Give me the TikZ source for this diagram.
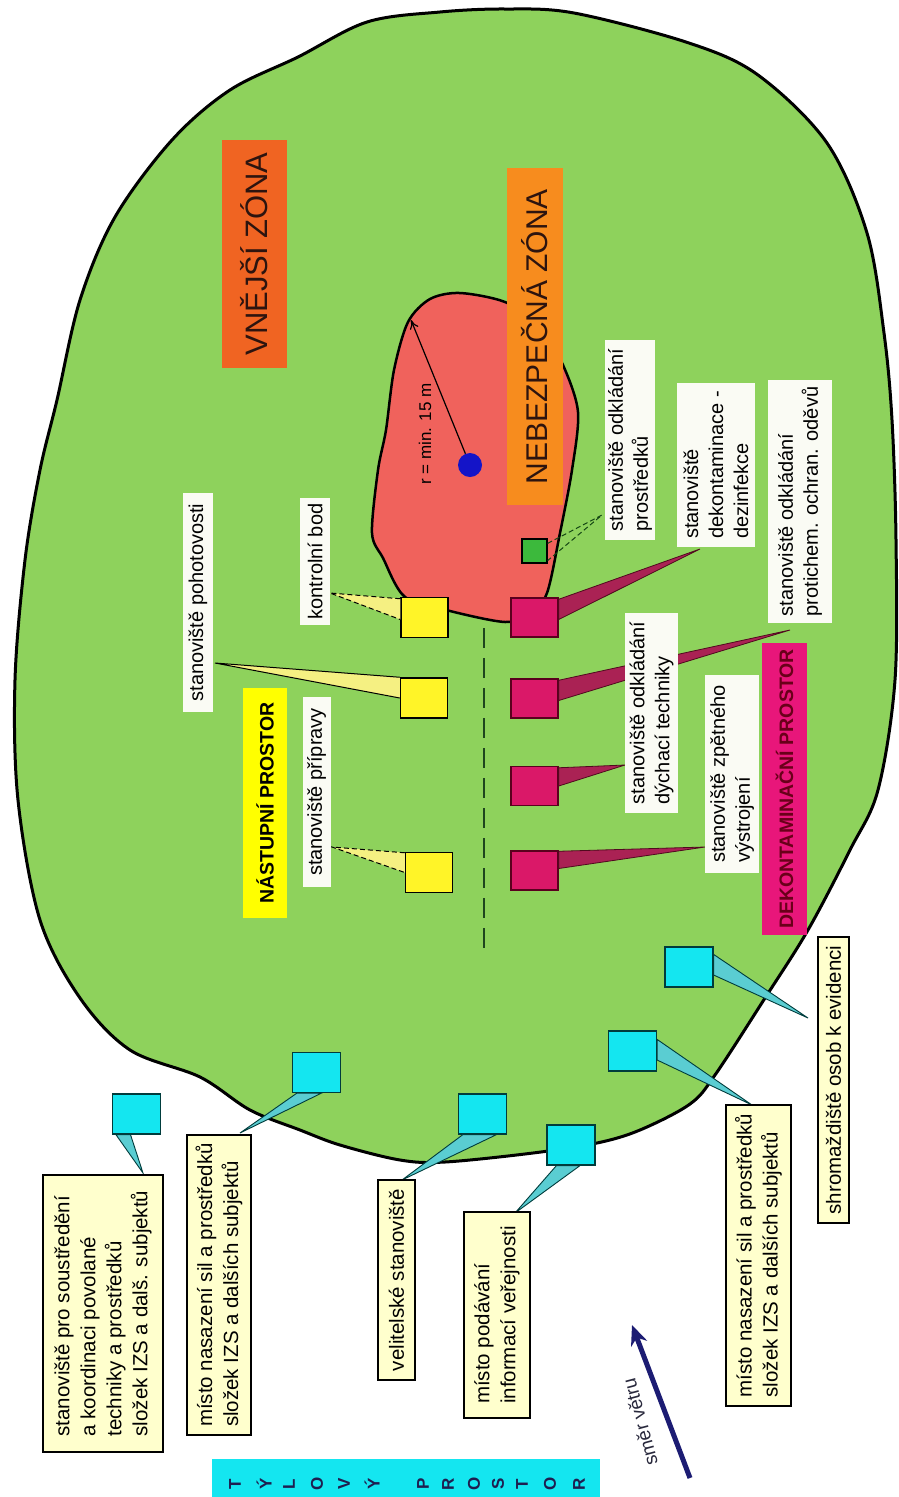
\documentclass[tikz,border=0pt]{standalone}
\usepackage{fontspec}
\setmainfont{Liberation Sans}
\usetikzlibrary{calc,arrows.meta}
\definecolor{zonegreen}{RGB}{142,210,92}
\definecolor{hazred}{RGB}{240,98,92}
\definecolor{orangeA}{RGB}{240,100,34}
\definecolor{orangeB}{RGB}{247,140,30}
\definecolor{yboxc}{RGB}{255,244,40}
\definecolor{ywedge}{RGB}{245,240,130}
\definecolor{magbox}{RGB}{218,24,104}
\definecolor{magwedge}{RGB}{170,34,84}
\definecolor{maglabel}{RGB}{232,22,122}
\definecolor{cyanbox}{RGB}{20,230,240}
\definecolor{cyanwedge}{RGB}{90,205,210}
\definecolor{paleyel}{RGB}{255,255,205}
\definecolor{lblwhite}{RGB}{250,251,244}
\definecolor{dotblue}{RGB}{20,20,200}
\definecolor{windblue}{RGB}{28,28,115}
\definecolor{smallgreen}{RGB}{60,185,60}
\definecolor{darkred}{RGB}{105,0,25}
\definecolor{zonetext}{RGB}{45,20,15}
\definecolor{dashgreen}{RGB}{30,70,30}
\begin{document}
\begin{tikzpicture}[x=1pt,y=-1pt,
  lbl/.style={rotate=90, fill=lblwhite, align=left, inner sep=0pt, font=\fontsize{20}{25}\selectfont},
  tlbl/.style={rotate=90, fill=paleyel, draw=black, line width=1.2pt, align=left, inner sep=0pt, font=\fontsize{20.5}{26}\selectfont},
  zonelbl/.style={rotate=90, inner sep=0pt, text=zonetext},
  ybox/.style={draw=black, line width=1.5pt, fill=yboxc, minimum width=47pt, minimum height=40pt, inner sep=0pt},
  mbox/.style={draw={rgb,255:red,90;green,0;blue,30}, line width=1.5pt, fill=magbox, minimum width=47pt, minimum height=39pt, inner sep=0pt},
  cbox/.style={draw={rgb,255:red,0;green,60;blue,60}, line width=1.2pt, fill=cyanbox, minimum width=48pt, minimum height=40pt, inner sep=0pt},
  ywedgest/.style={fill=ywedge},
  wline/.style={draw=black, line width=1pt},
  dline/.style={draw=black, line width=1pt, dash pattern=on 5pt off 3pt},
  mwedgest/.style={fill=magwedge, draw={rgb,255:red,80;green,10;blue,30}, line width=0.8pt},
  cwedgest/.style={fill=cyanwedge, draw={rgb,255:red,0;green,60;blue,60}, line width=0.9pt},
  tylletter/.style={rotate=90, inner sep=0pt, font=\fontsize{17}{17}\selectfont\bfseries, text={rgb,255:red,30;green,30;blue,80}}
]
\useasboundingbox (0,0) rectangle (898,1497);
\fill[white] (0,0) rectangle (898,1497);

% outer zone
\filldraw[fill=zonegreen, draw=black, line width=3pt]
  plot[smooth cycle, tension=0.55] coordinates {
  (505,9) (574,13) (689,43) (758,75) (827,143) (867,233) (884,333) (892,420)
  (896,540) (895,680) (878,790) (850,850) (808,930) (765,998) (715,1075)
  (690,1104) (640,1130) (597,1143) (533,1153) (445,1162) (400,1160) (340,1145)
  (300,1130) (250,1110) (200,1077) (130,1050) (80,998) (40,920) (18,800)
  (15,680) (25,560) (40,470) (57,400) (80,300) (115,217) (172,140) (230,90)
  (298,57) (367,22) (440,12)};

% hazard zone
\filldraw[fill=hazred, draw=black, line width=2.5pt]
  plot[smooth cycle, tension=0.5] coordinates {
  (460,293) (505,302) (540,325) (563,365) (578,412) (572,470) (560,533)
  (547,593) (530,614) (505,622) (450,611) (405,597) (383,558) (372,533)
  (378,470) (386,430) (394,370) (408,322) (430,299)};

% zone labels
\node[zonelbl, fill=orangeB, minimum width=337pt, minimum height=56pt, font=\fontsize{30}{36}\selectfont] (nebezp) at (535,336.5) {NEBEZPEČNÁ ZÓNA};
\node[zonelbl, fill=orangeA, minimum width=228pt, minimum height=65pt, font=\fontsize{31}{36}\selectfont] (vnejsi) at (254.5,254) {VNĚJŠÍ ZÓNA};

% source and radius
\node[circle, fill=dotblue, minimum size=24pt, inner sep=0pt] (dot) at (470,465) {};
\coordinate (rtip) at (411,320);
\draw[line width=1.2pt, -{To[length=9pt,width=9pt]}] (dot) -- (rtip);
\node[rotate=90, inner sep=0pt, font=\fontsize{17}{20}\selectfont] (rlbl) at (425,434) {r = min. 15 m};

% dashed separator
\coordinate (d1) at (484,628);
\coordinate (d2) at (484,955);
\draw[dashgreen, line width=1.5pt, dash pattern=on 20pt off 10pt] (d1) -- (d2);

% yellow boxes
\node[ybox] (yb1) at (424.5,617.5) {};
\node[ybox] (yb2) at (424,698) {};
\node[ybox] (yb3) at (429,872.5) {};
% magenta boxes
\node[mbox] (mb1) at (534.5,617.5) {};
\node[mbox] (mb2) at (534.5,698.5) {};
\node[mbox] (mb3) at (534.5,786) {};
\node[mbox] (mb4) at (534.5,870.5) {};
% small green box
\node[draw=black, line width=1.2pt, fill=smallgreen, minimum width=25pt, minimum height=24pt, inner sep=0pt] (gb) at (534.5,551) {};
% cyan boxes
\node[cbox] (cb1) at (136.5,1114) {};
\node[cbox] (cb2) at (316.5,1072.5) {};
\node[cbox] (cb3) at (482.5,1114) {};
\node[cbox] (cb4) at (571,1145) {};
\node[cbox] (cb5) at (632.5,1051) {};
\node[cbox] (cb6) at (689,967) {};

% wedge tips
\coordinate (tPoh) at (215,663);
\coordinate (tKon) at (330,593);
\coordinate (tPri) at (332,847);
\coordinate (tDek) at (700,549);
\coordinate (tPro) at (790,630);
\coordinate (tDych) at (625,765);
\coordinate (tZpet) at (705,847);
\coordinate (tOdk) at (602,515);
\coordinate (tC1) at (143,1173);
\coordinate (tC2) at (240,1133);
\coordinate (tC3) at (402,1180);
\coordinate (tC4) at (515,1213);
\coordinate (tC5) at (752,1105);
\coordinate (tC6) at (808,1018);

% yellow wedges
\fill[ywedgest] (yb2.north west) -- (tPoh) -- (yb2.west) -- cycle;
\draw[wline] (yb2.north west) -- (tPoh) -- (yb2.west);
\fill[ywedgest] ($(yb1.north west)+(0,2)$) -- (tKon) -- ($(yb1.west)+(0,2)$) -- cycle;
\draw[dline] ($(yb1.north west)+(0,2)$) -- (tKon) -- ($(yb1.west)+(0,2)$);
\fill[ywedgest] ($(yb3.north west)+(0,1)$) -- (tPri) -- (yb3.west) -- cycle;
\draw[dline] ($(yb3.north west)+(0,1)$) -- (tPri) -- (yb3.west);
% small green wedge
\draw[dline, draw={rgb,255:red,20;green,70;blue,20}] ($(gb.north east)+(0,5)$) -- (tOdk) -- ($(gb.south east)+(0,-3)$);
% magenta wedges
\filldraw[mwedgest] ($(mb1.north east)+(0,2)$) -- (tDek) -- ($(mb1.east)+(0,2)$) -- cycle;
\filldraw[mwedgest] ($(mb2.north east)+(0,2)$) -- (tPro) -- ($(mb2.east)+(0,2)$) -- cycle;
\filldraw[mwedgest] ($(mb3.north east)+(0,2)$) -- (tDych) -- (mb3.east) -- cycle;
\filldraw[mwedgest] ($(mb4.north east)+(0,1)$) -- (tZpet) -- ($(mb4.east)+(0,-2)$) -- cycle;
% cyan wedges
\filldraw[cwedgest] ($(cb1.south west)+(4,0)$) -- (tC1) -- ($(cb1.south)+(-6,0)$) -- cycle;
\filldraw[cwedgest] ($(cb2.south west)+(5,0)$) -- (tC2) -- ($(cb2.south)+(5,0)$) -- cycle;
\filldraw[cwedgest] ($(cb3.south west)+(5,0)$) -- (tC3) -- ($(cb3.south)+(14,0)$) -- cycle;
\filldraw[cwedgest] ($(cb4.south west)+(10,0)$) -- (tC4) -- ($(cb4.south)+(9,0)$) -- cycle;
\filldraw[cwedgest] ($(cb5.north east)+(0,9)$) -- (tC5) -- ($(cb5.east)+(0,9)$) -- cycle;
\filldraw[cwedgest] ($(cb6.north east)+(0,8)$) -- (tC6) -- ($(cb6.east)+(0,8)$) -- cycle;

% area labels
\node[zonelbl, fill={rgb,255:red,255;green,255;blue,0}, text=black, minimum width=230pt, minimum height=44pt, font=\fontsize{19.5}{22}\selectfont\bfseries] (nastup) at (265,803) {NÁSTUPNÍ PROSTOR};
\node[zonelbl, fill=maglabel, text=darkred, minimum width=292pt, minimum height=45pt, font=\fontsize{19.5}{22}\selectfont\bfseries] (dekont) at (784.5,789) {DEKONTAMINAČNÍ PROSTOR};

% labels on green
\node[lbl, minimum width=219pt, minimum height=30pt] (Lpoh) at (198,602.5) {stanoviště pohotovosti};
\node[lbl, minimum width=127pt, minimum height=30pt] (Lkon) at (315,561.5) {kontrolní bod};
\node[lbl, minimum width=190pt, minimum height=28pt] (Lpri) at (316.5,792) {stanoviště přípravy};
\node[lbl, minimum width=200pt, minimum height=50pt] (Lodk) at (630,440) {stanoviště odkládání\\prostředků};
\node[lbl, minimum width=164pt, minimum height=78pt] (Ldek) at (716,465) {stanoviště\\dekontaminace -\\dezinfekce};
\node[lbl, minimum width=243pt, minimum height=64pt] (Lpro) at (800,501.5) {stanoviště odkládání\\protichem. ochran. oděvů};
\node[lbl, minimum width=200pt, minimum height=53pt] (Ldych) at (651.5,713) {stanoviště odkládání\\dýchací techniky};
\node[lbl, minimum width=198pt, minimum height=54pt] (Lzpet) at (732,774) {stanoviště zpětného\\výstrojení};

% rear area labels
\node[tlbl, minimum width=277pt, minimum height=120pt] (T1) at (103,1313.5) {stanoviště pro soustředění\\a koordinaci povolané\\techniky a prostředků\\složek IZS a dalš. subjektů};
\node[tlbl, minimum width=300pt, minimum height=64pt] (T2) at (219,1285) {místo nasazení sil a prostředků\\složek IZS a dalších subjektů};
\node[tlbl, minimum width=200pt, minimum height=37pt] (T3) at (396.5,1280) {velitelské stanoviště};
\node[tlbl, minimum width=206pt, minimum height=66pt] (T4) at (497,1315) {místo podávání\\informací veřejnosti};
\node[tlbl, minimum width=301pt, minimum height=65pt] (T5) at (758.5,1255.5) {místo nasazení sil a prostředků\\složek IZS a dalších subjektů};
\node[tlbl, minimum width=286pt, minimum height=31pt] (T6) at (833.5,1080) {shromaždiště osob k evidenci};

% rear area bar
\node[fill=cyanbox, minimum width=388pt, minimum height=39pt, inner sep=0pt] (tylbar) at (406,1478) {};
\foreach \ch/\xx in {T/235,Ý/264,L/289,O/317,V/344,Ý/372,P/423,R/448,O/474,S/498,T/522,O/550,R/579}
  \node[tylletter] at (\xx,1484) {\ch};

% wind direction
\coordinate (w1) at (690,1478);
\coordinate (w2) at (632,1325);
\draw[windblue, line width=5pt, -{Stealth[length=20pt,width=17pt]}] (w1) -- (w2);
\node[rotate=105, inner sep=0pt, font=\fontsize{19}{22}\selectfont, text={rgb,255:red,40;green,40;blue,60}] (wlbl) at (640,1422) {směr větru};
\end{tikzpicture}
\end{document}
